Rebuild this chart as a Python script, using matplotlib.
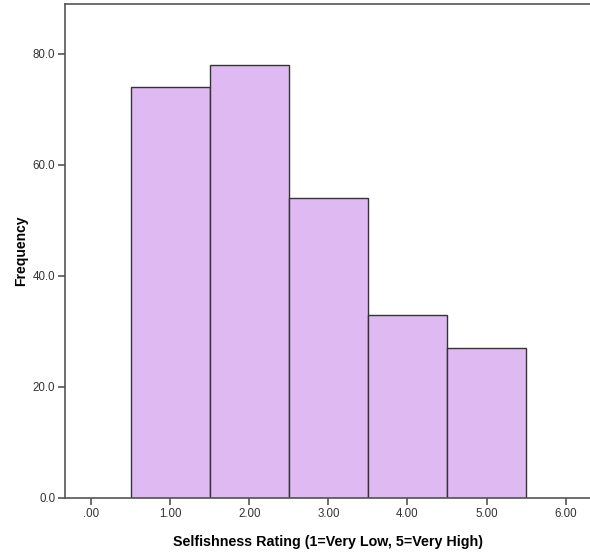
import matplotlib
matplotlib.use("Agg")
import matplotlib.pyplot as plt
from matplotlib.ticker import FuncFormatter

plt.rcParams['font.family'] = ['Liberation Sans', 'DejaVu Sans']

ratings = [1, 2, 3, 4, 5]
frequencies = [74, 78, 54, 33, 27]
x_ticks = [0, 1, 2, 3, 4, 5, 6]
y_ticks = [0, 20, 40, 60, 80]

fig = plt.figure(figsize=(5.9, 5.57), dpi=100)
ax = fig.add_axes([0.110, 0.106, 0.893, 0.886])

ax.bar(ratings, frequencies, width=1.0, color='#DFB9F2', edgecolor='#333333', linewidth=1.0, zorder=2)

ax.set_xlim(-0.33, 6.33)
ax.set_ylim(0, 88.9)
ax.set_xticks(x_ticks)
ax.set_yticks(y_ticks)

def xfmt(v, pos):
    s = f"{v:.2f}"
    if s.startswith("0"):
        s = s[1:]
    return s

ax.xaxis.set_major_formatter(FuncFormatter(xfmt))
ax.yaxis.set_major_formatter(FuncFormatter(lambda v, p: f"{v:.1f}"))

for sp in ax.spines.values():
    sp.set_color('#555555')
    sp.set_linewidth(1.2)
ax.tick_params(axis='both', direction='out', length=5, width=1.2, color='#555555',
               labelsize=8.3, labelcolor='#333333', pad=2)

ax.set_xlabel('Selfishness Rating (1=Very Low, 5=Very High)', fontsize=10.3, fontweight='bold', labelpad=11)
ax.set_ylabel('Frequency', fontsize=10, fontweight='bold', labelpad=3.5)

fig.savefig('out.png', dpi=100)
